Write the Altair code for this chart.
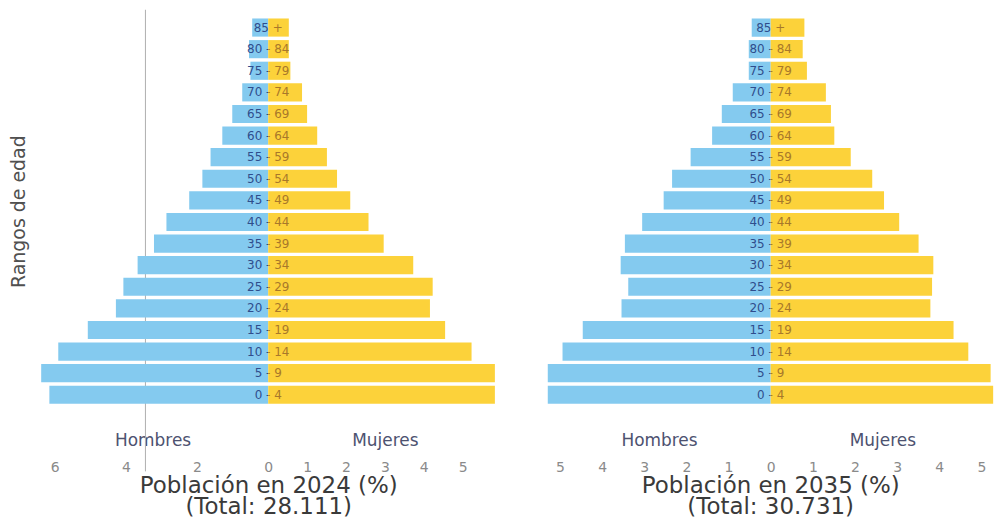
import altair as alt
import pandas as pd

ages = ["0 - 4", "5 - 9", "10 - 14", "15 - 19", "20 - 24", "25 - 29", "30 - 34", "35 - 39",
        "40 - 44", "45 - 49", "50 - 54", "55 - 59", "60 - 64", "65 - 69", "70 - 74",
        "75 - 79", "80 - 84", "85 +"]
age_order = ages[::-1]

men_2024 = [6.15, 6.38, 5.90, 5.07, 4.28, 4.07, 3.67, 3.21, 2.86, 2.22, 1.85, 1.62, 1.29, 1.01, 0.73, 0.50, 0.54, 0.45]
women_2024 = [5.83, 5.83, 5.23, 4.55, 4.16, 4.23, 3.73, 2.97, 2.58, 2.11, 1.77, 1.51, 1.26, 1.00, 0.87, 0.57, 0.53, 0.53]
men_2035 = [5.29, 5.29, 4.94, 4.46, 3.54, 3.38, 3.56, 3.46, 3.05, 2.54, 2.34, 1.90, 1.39, 1.16, 0.90, 0.52, 0.52, 0.45]
women_2035 = [5.28, 5.22, 4.69, 4.34, 3.79, 3.83, 3.86, 3.51, 3.05, 2.69, 2.41, 1.90, 1.51, 1.43, 1.31, 0.86, 0.76, 0.80]

titles_2024 = ["Población en 2024 (%)", "(Total: 28.111)"]
titles_2035 = ["Población en 2035 (%)", "(Total: 30.731)"]

BLUE = "#84caef"
GOLD = "#fcd23a"
MALE_TXT = "#2f4d8c"
FEMALE_TXT = "#a8782a"


def half(values, side, dmax, width, ticks, bar_color, text_color, ytitle=None, crease=None):
    df = pd.DataFrame({"Edad": ages, "Pct": values})
    if ytitle:
        yaxis = alt.Axis(title=ytitle, labels=False, ticks=False, domain=False, grid=False,
                         titleFont="DejaVu Sans", titleFontSize=19, titleColor="#505050",
                         titleFontWeight="normal", titlePadding=8)
    else:
        yaxis = None
    yenc = alt.Y("Edad:N", sort=age_order,
                 scale=alt.Scale(paddingInner=0.16, paddingOuter=0.08), axis=yaxis)
    xenc = alt.X("Pct:Q",
                 scale=alt.Scale(domain=[0, dmax], reverse=(side == "Hombres"), nice=False, zero=False),
                 axis=alt.Axis(values=ticks, title=side, grid=False, domain=False, ticks=False,
                               labelPadding=55, labelFlush=False, labelFontSize=14,
                               labelColor="#8a8a8a", labelFont="DejaVu Sans", format="d",
                               titleFont="DejaVu Sans", titleFontSize=17, titleFontWeight="normal",
                               titleColor="#4d5270", titleY=35, titleBaseline="middle"))
    bars = alt.Chart(df).mark_bar(color=bar_color).encode(x=xenc, y=yenc)
    labels = alt.Chart(df).mark_text(
        clip=True, align="center", baseline="middle", font="DejaVu Sans",
        fontSize=12, color=text_color
    ).encode(x=alt.datum(0), y=yenc, text="Edad:N")
    layers = [bars, labels]
    if crease is not None:
        rule = alt.Chart(pd.DataFrame({"k": [0]})).mark_rule(
            color="#b0b0b0", strokeWidth=1
        ).encode(x=alt.datum(crease), y=alt.value(-7), y2=alt.value(456))
        layers.insert(0, rule)
    return alt.layer(*layers).properties(width=width, height=390)


def pyramid(men, women, mmax, wmax, mw, ww, mticks, wticks, title, dx=0, ytitle=None, crease=None):
    m = half(men, "Hombres", mmax, mw, mticks, BLUE, MALE_TXT, ytitle=ytitle, crease=crease)
    w = half(women, "Mujeres", wmax, ww, wticks, GOLD, FEMALE_TXT)
    return alt.hconcat(m, w, spacing=0, bounds="flush").properties(
        title=alt.TitleParams(text=title, orient="bottom", anchor="middle", dx=dx,
                              font="DejaVu Sans", fontSize=23, fontWeight="normal",
                              color="#3a3a3a", lineHeight=21, offset=1)
    )


p1 = pyramid(men_2024, women_2024, 6.5, 6.0, 232, 234, [2, 4, 6], [0, 1, 2, 3, 4, 5],
             titles_2024, dx=13, ytitle="Rangos de edad", crease=3.45)
p2 = pyramid(men_2035, women_2035, 5.3, 5.3, 224, 224, [1, 2, 3, 4, 5], [0, 1, 2, 3, 4, 5],
             titles_2035)

chart = alt.hconcat(p1, p2, spacing=46).properties(
    padding={"left": 2, "top": 0, "right": 0, "bottom": 0}, background="white"
).configure_view(strokeWidth=0, strokeOpacity=0).configure_axis(grid=False)

chart.save("out.html", embed_options={"renderer": "svg", "actions": False})
